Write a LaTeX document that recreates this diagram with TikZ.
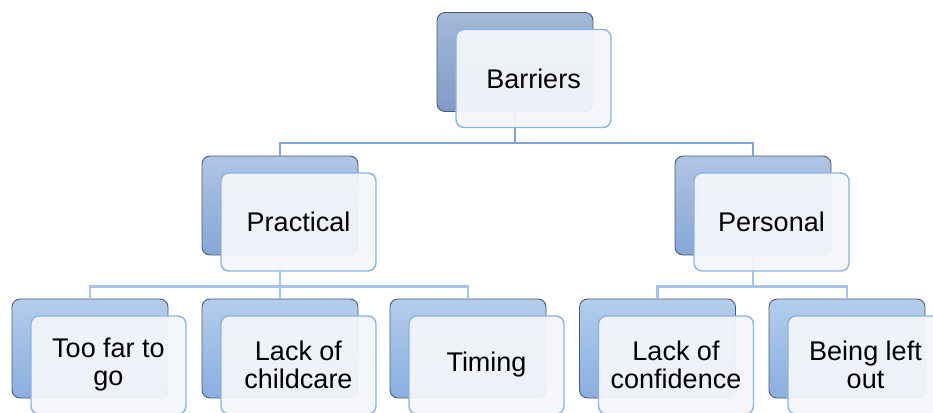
\documentclass[tikz,border=0pt]{standalone}
\usepackage{fontspec}
\setmainfont{Liberation Sans}
\begin{document}
\begin{tikzpicture}[x=1pt,y=-1pt,
  backbox/.style={draw=boxedge, line width=0.9pt, rounded corners=8pt,
    minimum width=156pt, minimum height=99pt, inner sep=0pt},
  lvlA/.style={backbox, top color=backAtop, bottom color=backAbot},
  lvlB/.style={backbox, top color=backBtop, bottom color=backBbot},
  lvlC/.style={backbox, top color=backCtop, bottom color=backCbot},
  frontbox/.style={draw=frontedge, line width=1.4pt, rounded corners=8pt,
    fill=frontfill, fill opacity=0.95, text opacity=1,
    minimum width=155pt, minimum height=98pt, inner sep=0pt,
    align=center,
    font=\fontsize{27pt}{28pt}\selectfont},
  linkA/.style={draw=linkdark, line width=2.6pt},
  linkB/.style={draw=linklight, line width=2.6pt}]
\definecolor{boxedge}{HTML}{4F5A68}
\definecolor{backAtop}{HTML}{A4B8D7}
\definecolor{backAbot}{HTML}{7F9BC7}
\definecolor{backBtop}{HTML}{AFC5E4}
\definecolor{backBbot}{HTML}{86A6D6}
\definecolor{backCtop}{HTML}{B4CDEB}
\definecolor{backCbot}{HTML}{8AAEE0}
\definecolor{frontedge}{HTML}{8DB3E2}
\definecolor{frontfill}{HTML}{F3F6FA}
\definecolor{linkdark}{HTML}{7DA5D9}
\definecolor{linklight}{HTML}{A7C3E8}

\useasboundingbox (0,0) rectangle (933,412);
\clip (0,0) rectangle (933,412);

% back boxes
\node[lvlA] (b-bar)  at (515,62) {};
\node[lvlB] (b-prac) at (280,205.5) {};
\node[lvlB] (b-pers) at (753,205.5) {};
\node[lvlC] (b-far)  at (90,348.5) {};
\node[lvlC] (b-child) at (280,348.5) {};
\node[lvlC] (b-time) at (468,348.5) {};
\node[lvlC] (b-conf) at (657.5,348.5) {};
\node[lvlC] (b-out)  at (847,348.5) {};

% connectors, routed through a common elbow level
\draw[linkA] (b-bar.south) -- ++(0,31) -| (b-prac.north);
\draw[linkA] (b-bar.south) -- ++(0,31) -| (b-pers.north);
\draw[linkB] (b-prac.south) -- ++(0,31) -| (b-far.north);
\draw[linkB] (b-prac.south) -- (b-child.north);
\draw[linkB] (b-prac.south) -- ++(0,31) -| (b-time.north);
\draw[linkB] (b-pers.south) -- ++(0,31) -| (b-conf.north);
\draw[linkB] (b-pers.south) -- ++(0,31) -| (b-out.north);

% front boxes with the labels
\node[frontbox] (f-bar)  at ([shift={(18.5,16.5)}]b-bar.center) {Barriers};
\node[frontbox] (f-prac) at ([shift={(18.5,16.5)}]b-prac.center) {Practical};
\node[frontbox] (f-pers) at ([shift={(18.5,16.5)}]b-pers.center) {Personal};
\node[frontbox] (f-far)  at ([shift={(18.5,16.5)}]b-far.center) {Too far to\\go};
\node[frontbox] (f-child) at ([shift={(18.5,16.5)}]b-child.center) {Lack of\\childcare};
\node[frontbox] (f-time) at ([shift={(18.5,16.5)}]b-time.center) {Timing};
\node[frontbox] (f-conf) at ([shift={(18.5,16.5)}]b-conf.center) {Lack of\\confidence};
\node[frontbox] (f-out)  at ([shift={(18.5,16.5)}]b-out.center) {Being left\\out};
\end{tikzpicture}
\end{document}
